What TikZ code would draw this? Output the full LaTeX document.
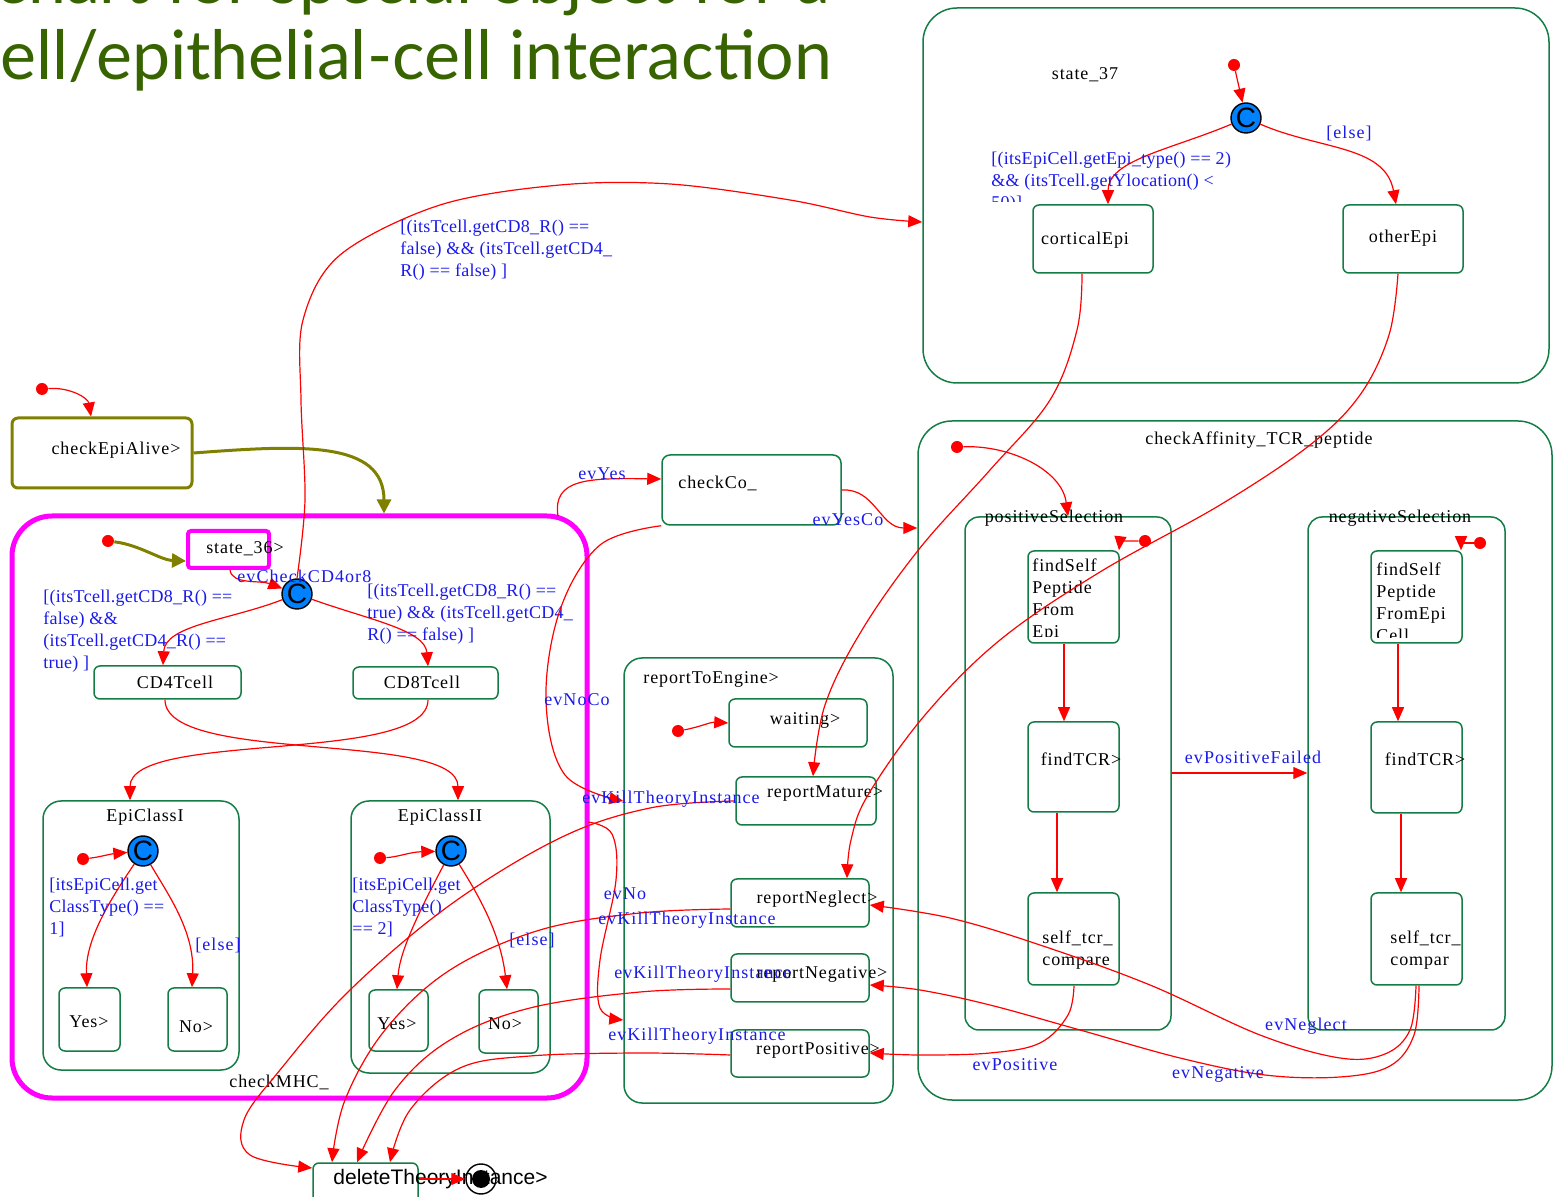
\documentclass[tikz,border=0pt]{standalone}
\usepackage{fontspec}
\setmainfont{Liberation Serif}
\newfontfamily\stf[LetterSpace=5]{Liberation Serif}
\newfontfamily\evf[LetterSpace=6]{Liberation Serif}
\newfontfamily\gdf[LetterSpace=1.5]{Liberation Serif}
\newfontfamily\ssf{Liberation Sans}
\newfontfamily\ttlf{Lato}
\usetikzlibrary{arrows.meta,fit}

\definecolor{sgreen}{RGB}{20,125,70}
\definecolor{lblue}{RGB}{25,25,235}
\definecolor{cblue}{RGB}{0,130,255}
\definecolor{olv}{RGB}{128,128,0}
\definecolor{mag}{RGB}{255,0,255}
\definecolor{ttlgreen}{RGB}{55,100,0}

\tikzset{
  stbox/.style={draw=sgreen, line width=0.75pt, rounded corners=3pt, inner sep=0pt},
  compbox/.style={stbox, rounded corners=9pt},
  bigbox/.style={stbox, rounded corners=17pt},
  stname/.style={font=\stf\fontsize{9}{11}\selectfont, text=black, inner sep=0pt},
  stlines/.style={stname, align=left, anchor=north west},
  evlab/.style={font=\evf\fontsize{9}{11}\selectfont, text=lblue, inner sep=0pt},
  guard/.style={font=\gdf\fontsize{9}{11}\selectfont, text=lblue, inner sep=0pt, align=left, anchor=north west},
  tr/.style={draw=red, line width=0.6pt, -{Triangle[length=7pt,width=6pt]}},
  olvarrow/.style={draw=olv, line width=1.5pt, -{Triangle[length=7pt,width=7pt]}},
  initdot/.style={circle, fill=red, inner sep=0pt, minimum size=6pt},
  cond/.style={circle, fill=cblue, draw=black, line width=0.7pt, inner sep=0pt, minimum size=15pt, font=\ssf\fontsize{14}{14}\selectfont},
  ttl/.style={inner sep=0pt, text=ttlgreen, font=\ttlf\fontsize{34}{34}\selectfont},
}

\begin{document}
\begin{tikzpicture}[x=0.5pt,y=-0.5pt]
\useasboundingbox (0,0) rectangle (1560,1197);
\clip (0,0) rectangle (1560,1197);

% ---------- title ----------
\node[ttl, anchor=base east] (title1) at (830,4) {Statechart for special object for a};
\node[ttl, anchor=base west] (title2) at (0,80) {\llap{T-c}ell/epithelial-cell interaction};

% ---------- state_37 ----------
\node[bigbox, fit={(923,8) (1549,383)}] (s37) {};
\node[stname] (s37lab) at (1085,75) {state\_37};
\node[initdot] (i37) at (1234,65) {};
\node[cond] (c37) at (1246,118) {C};
\node[stbox, fit={(1033,205) (1153,273)}] (cortical) {};
\node[stname] (corticallab) at (1085,240) {corticalEpi};
\node[stbox, fit={(1343,205) (1463,273)}] (other) {};
\node[stname] (otherlab) at (1403,238) {otherEpi};
\draw[tr] (i37) -- (c37);
\draw[tr] (c37) .. controls (1170,150) and (1108,160) .. (cortical.north -| 1108,0);
\draw[tr] (c37) .. controls (1320,150) and (1385,145) .. (other.north -| 1396,0);
\node[evlab] (else37) at (1349,133) {[else]};
\begin{scope}
  \clip (980,140) rectangle (1300,202);
  \node[guard] (g37) at (991,152) {[(itsEpiCell.getEpi\_type() == 2)\\\&\& (itsTcell.getYlocation() <\\50)]};
\end{scope}

% ---------- checkEpiAlive ----------
\node[draw=olv, line width=1.5pt, rounded corners=3pt, inner sep=0pt, fit={(12,418) (192,488)}] (alive) {};
\node[stname] (alivelab) at (116,450) {checkEpiAlive>};
\node[initdot] (i0) at (42,389) {};
\draw[tr] (i0) .. controls (70,387) and (88,398) .. (alive.north -| 91,0);

% ---------- checkMHC_ ----------
\node[draw=mag, line width=2.5pt, rounded corners=20pt, inner sep=0pt, fit={(12,516) (587,1098)}] (mhc) {};
\node[stname] (mhclab) at (279,1082) {checkMHC\_};
\draw[olvarrow] (alive.east |- 0,453) .. controls (300,445) and (384,440) .. (mhc.north -| 384,0);

\node[draw=mag, line width=2pt, rounded corners=1.5pt, inner sep=0pt, fit={(188,531) (269,568)}] (s36) {};
\node[stname] (s36lab) at (245,549) {state\_36>};
\node[initdot] (i36) at (108,541) {};
\draw[olvarrow] (i36) .. controls (140,545) and (160,560) .. (s36.west |- 0,561);
\node[cond] (c36) at (297,594) {C};
\draw[tr] (s36.south -| 230,0) .. controls (232,585) and (260,580) .. (c36);
\node[evlab, anchor=west] (evcd) at (237,576) {evCheckCD4or8};

\node[stbox, fit={(94,666) (241,699)}] (cd4) {};
\node[stname] (cd4lab) at (175,682) {CD4Tcell};
\node[stbox, fit={(353,667) (498,699)}] (cd8) {};
\node[stname] (cd8lab) at (422,682) {CD8Tcell};
\draw[tr] (c36) .. controls (230,620) and (165,625) .. (cd4.north -| 163,0);
\draw[tr] (c36) .. controls (370,620) and (425,630) .. (cd8.north -| 428,0);
\node[guard] (gcd4) at (43,590) {[(itsTcell.getCD8\_R() ==\\false) \&\&\\(itsTcell.getCD4\_R() ==\\true) ]};
\node[guard] (gcd8) at (367,584) {[(itsTcell.getCD8\_R() ==\\true) \&\& (itsTcell.getCD4\_\\R() == false) ]};

% EpiClassI
\node[compbox, fit={(43,801) (239,1070)}] (epi1) {};
\node[stname] (epi1lab) at (145,817) {EpiClassI};
\node[cond] (ce1) at (143,851) {C};
\node[initdot] (ie1) at (83,859) {};
\draw[tr] (ie1) .. controls (100,857) and (110,854) .. (ce1);
\node[stbox, fit={(59,988) (120,1051)}] (yes1) {};
\node[stname] (yes1lab) at (89,1022) {Yes>};
\node[stbox, fit={(168,988) (227,1051)}] (no1) {};
\node[stname] (no1lab) at (196,1027) {No>};
\draw[tr] (ce1) .. controls (110,900) and (85,940) .. (yes1.north -| 87,0);
\draw[tr] (ce1) .. controls (165,890) and (195,930) .. (no1.north -| 192,0);
\node[guard] (ge1) at (49,878) {[itsEpiCell.get\\ClassType() ==\\1]};
\node[evlab] (else1) at (218,945) {[else]};

% EpiClassII
\node[compbox, fit={(351,801) (550,1073)}] (epi2) {};
\node[stname] (epi2lab) at (440,817) {EpiClassII};
\node[cond] (ce2) at (451,851) {C};
\node[initdot] (ie2) at (380,858) {};
\draw[tr] (ie2) .. controls (398,857) and (410,852) .. (ce2);
\node[stbox, fit={(369,990) (428,1051)}] (yes2) {};
\node[stname] (yes2lab) at (397,1024) {Yes>};
\node[stbox, fit={(479,990) (538,1053)}] (no2) {};
\node[stname] (no2lab) at (505,1024) {No>};
\draw[tr] (ce2) .. controls (420,910) and (400,950) .. (yes2.north -| 397,0);
\draw[tr] (ce2) .. controls (475,890) and (500,930) .. (no2.north -| 507,0);
\node[guard] (ge2) at (352,878) {[itsEpiCell.get\\ClassType()\\== 2]};
\node[evlab] (else2) at (532,940) {[else]};

\draw[tr] (cd4.south -| 165,0) .. controls (165,765) and (458,730) .. (epi2.north -| 458,0);
\draw[tr] (cd8.south -| 428,0) .. controls (428,765) and (130,730) .. (epi1.north -| 130,0);

% ---------- checkCo_ ----------
\node[stbox, rounded corners=4pt, fit={(662,455) (841,525)}] (co) {};
\node[stname, anchor=west] (colab) at (678,483) {checkCo\_};
\coordinate (yesfrom) at (558,516);
\draw[tr] (yesfrom) .. controls (552,478) and (590,478) .. (co.west |- 0,479);
\node[evlab] (evyes) at (602,474) {evYes};

% ---------- reportToEngine ----------
\node[compbox, fit={(624,658) (893,1103)}] (rep) {};
\node[stname, anchor=west] (replab) at (643,679) {reportToEngine>};
\node[stbox, fit={(729,699) (867,747)}] (waiting) {};
\node[stname] (waitinglab) at (805,720) {waiting>};
\node[initdot] (iw) at (678,731) {};
\draw[tr] (iw) .. controls (700,727) and (710,722) .. (waiting.west);
\node[stbox, fit={(736,777) (876,825)}] (mature) {};
\node[stname] (maturelab) at (825,794) {reportMature>};
\node[stbox, fit={(731,879) (869,927)}] (neglect) {};
\node[stname] (neglectlab) at (817,899) {reportNeglect>};
\node[stbox, fit={(731,954) (869,1002)}] (negative) {};
\node[stname] (negativelab) at (822,974) {reportNegative>};
\node[stbox, fit={(731,1030) (869,1077)}] (positive) {};
\node[stname] (positivelab) at (818,1050) {reportPositive>};

\draw[tr] plot[smooth, tension=0.6] coordinates {(co.south west) (600,545) (560,610) (546,700) (565,775) (rep.west |- 0,801)};
\node[evlab] (evnoco) at (577,700) {evNoCo};
\coordinate (nofrom) at (588,822);
\draw[tr] plot[smooth, tension=0.6] coordinates {(nofrom) (612,834) (616,880) (600,960) (600,1008) (rep.west |- 0,1020)};

% ---------- deleteTheoryInstance ----------
\node[stbox, fit={(313,1163) (418,1215)}] (del) {};
\node[anchor=west, inner sep=0pt, font=\ssf\fontsize{10.5}{12}\selectfont] (dellab) at (333,1179) {deleteTheoryInstance>};
\node[circle, draw=black, line width=0.7pt, minimum size=15pt, inner sep=0pt] (fin) at (481,1179) {};
\node[circle, fill=black, minimum size=9pt, inner sep=0pt] (findot) at (fin) {};
\draw[tr] (del.east |- dellab) -- (fin.west);

\draw[tr] plot[smooth, tension=0.6] coordinates {(mature.west) (650,808) (560,838) (450,905) (350,990) (280,1070) (244,1120) (250,1155) (del.west |- 0,1168)};
\draw[tr] plot[smooth, tension=0.6] coordinates {(neglect.west |- 0,909) (640,913) (540,930) (450,970) (385,1030) (345,1100) (del.north -| 332,0)};
\draw[tr] plot[smooth, tension=0.6] coordinates {(negative.west |- 0,989) (640,992) (530,1008) (450,1040) (395,1090) (del.north -| 357,0)};
\draw[tr] plot[smooth, tension=0.6] coordinates {(positive.west |- 0,1055) (640,1053) (530,1056) (460,1068) (410,1110) (del.north -| 390,0)};

% ---------- long transition to state_37 ----------
\draw[tr] plot[smooth, tension=0.55] coordinates {(c36.north) (305,500) (301,400) (303,320) (340,255) (440,205) (560,185) (670,184) (790,200) (870,217) (s37.west |- 0,222)};
\node[guard] (gtop) at (400,220) {[(itsTcell.getCD8\_R() ==\\false) \&\& (itsTcell.getCD4\_\\R() == false) ]};

% ---------- checkAffinity_TCR_peptide ----------
\node[bigbox, fit={(918,421) (1552,1100)}] (aff) {};
\node[stname] (afflab) at (1259,440) {checkAffinity\_TCR\_peptide};
\draw[tr] (co.east |- 0,490) .. controls (875,488) and (880,528) .. (aff.west |- 0,528);
\node[evlab] (evyesco) at (848,520) {evYesCo};
\node[initdot] (iaff) at (957,447) {};

\node[compbox, rounded corners=7pt, fit={(965,517) (1171,1030)}] (possel) {};
\node[stname] (posellab) at (1054,518) {positiveSelection};
\node[compbox, rounded corners=7pt, fit={(1308,517) (1505,1030)}] (negsel) {};
\node[stname] (negsellab) at (1400,518) {negativeSelection};
\draw[tr] (iaff) .. controls (1010,445) and (1062,470) .. (possel.north -| 1068,0);

\node[stbox, fit={(1028,551) (1119,643)}] (fs1) {};
\begin{scope}
  \clip (1028,551) rectangle (1119,637);
  \node[stlines] (fs1lab) at (1032,558) {findSelf\\Peptide\\From\\Epi};
\end{scope}
\node[stbox, fit={(1028,722) (1119,812)}] (ft1) {};
\node[stname] (ft1lab) at (1081,759) {findTCR>};
\node[stbox, fit={(1028,893) (1119,985)}] (sc1) {};
\node[stlines] (sc1lab) at (1042,930) {self\_tcr\_\\compare};
\node[initdot] (ip) at (1145,541) {};
\draw[tr] (ip) -- (1120,541) -- (fs1.north -| 1119,0);
\draw[tr] (fs1.south -| 1064,0) -- (ft1.north -| 1064,0);
\draw[tr] (ft1.south -| 1057,0) -- (sc1.north -| 1057,0);

\node[stbox, fit={(1371,551) (1462,643)}] (fs2) {};
\begin{scope}
  \clip (1371,551) rectangle (1462,638);
  \node[stlines] (fs2lab) at (1376,562) {findSelf\\Peptide\\FromEpi\\Cell};
\end{scope}
\node[stbox, fit={(1371,722) (1462,813)}] (ft2) {};
\node[stname] (ft2lab) at (1425,759) {findTCR>};
\node[stbox, fit={(1371,893) (1462,985)}] (sc2) {};
\node[stlines] (sc2lab) at (1390,930) {self\_tcr\_\\compar};
\node[initdot] (in) at (1480,543) {};
\draw[tr] (in) -- (1461,543) -- (fs2.north -| 1461,0);
\draw[tr] (fs2.south -| 1398,0) -- (ft2.north -| 1398,0);
\draw[tr] (ft2.south -| 1401,0) -- (sc2.north -| 1401,0);

\draw[tr] (possel.east |- 0,773) -- (negsel.west |- 0,773);
\node[evlab] (evpf) at (1253,757) {evPositiveFailed};

% results back to reportToEngine
\draw[tr] plot[smooth, tension=0.6] coordinates {(sc1.south -| 1074,0) (1068,1015) (1040,1043) (990,1053) (920,1055) (positive.east |- 0,1053)};
\node[evlab] (evpos) at (1015,1065) {evPositive};
\draw[tr] plot[smooth, tension=0.6] coordinates {(sc2.south -| 1416,0) (1410,1030) (1385,1054) (1340,1058) (1260,1035) (1150,985) (1040,945) (950,918) (neglect.east |- 0,905)};
\node[evlab] (evneglect) at (1306,1026) {evNeglect};
\draw[tr] plot[smooth, tension=0.6] coordinates {(sc2.south -| 1419,0) (1414,1035) (1390,1066) (1340,1077) (1265,1075) (1180,1058) (1080,1030) (990,1005) (920,990) (negative.east |- 0,985)};
\node[evlab] (evnegative) at (1218,1074) {evNegative};

% ---------- reportMature / reportNeglect from state_37 ----------
\draw[tr] plot[smooth, tension=0.6] coordinates {(cortical.south -| 1082,0) (1077,330) (1050,400) (990,470) (920,548) (862,630) (825,705) (mature.north -| 813,0)};
\draw[tr] plot[smooth, tension=0.6] coordinates {(other.south -| 1398,0) (1389,335) (1360,395) (1310,445) (1220,505) (1100,572) (1000,640) (925,715) (868,795) (851,840) (neglect.north -| 847,0)};

% ---------- kill-instance event labels ----------
\node[evlab] (k1) at (671,799) {evKillTheoryInstance};
\node[evlab] (evno) at (625,894) {evNo};
\node[evlab] (k2) at (687,920) {evKillTheoryInstance};
\node[evlab] (k3) at (703,974) {evKillTheoryInstance};
\node[evlab] (k4) at (697,1036) {evKillTheoryInstance};

\end{tikzpicture}
\end{document}
